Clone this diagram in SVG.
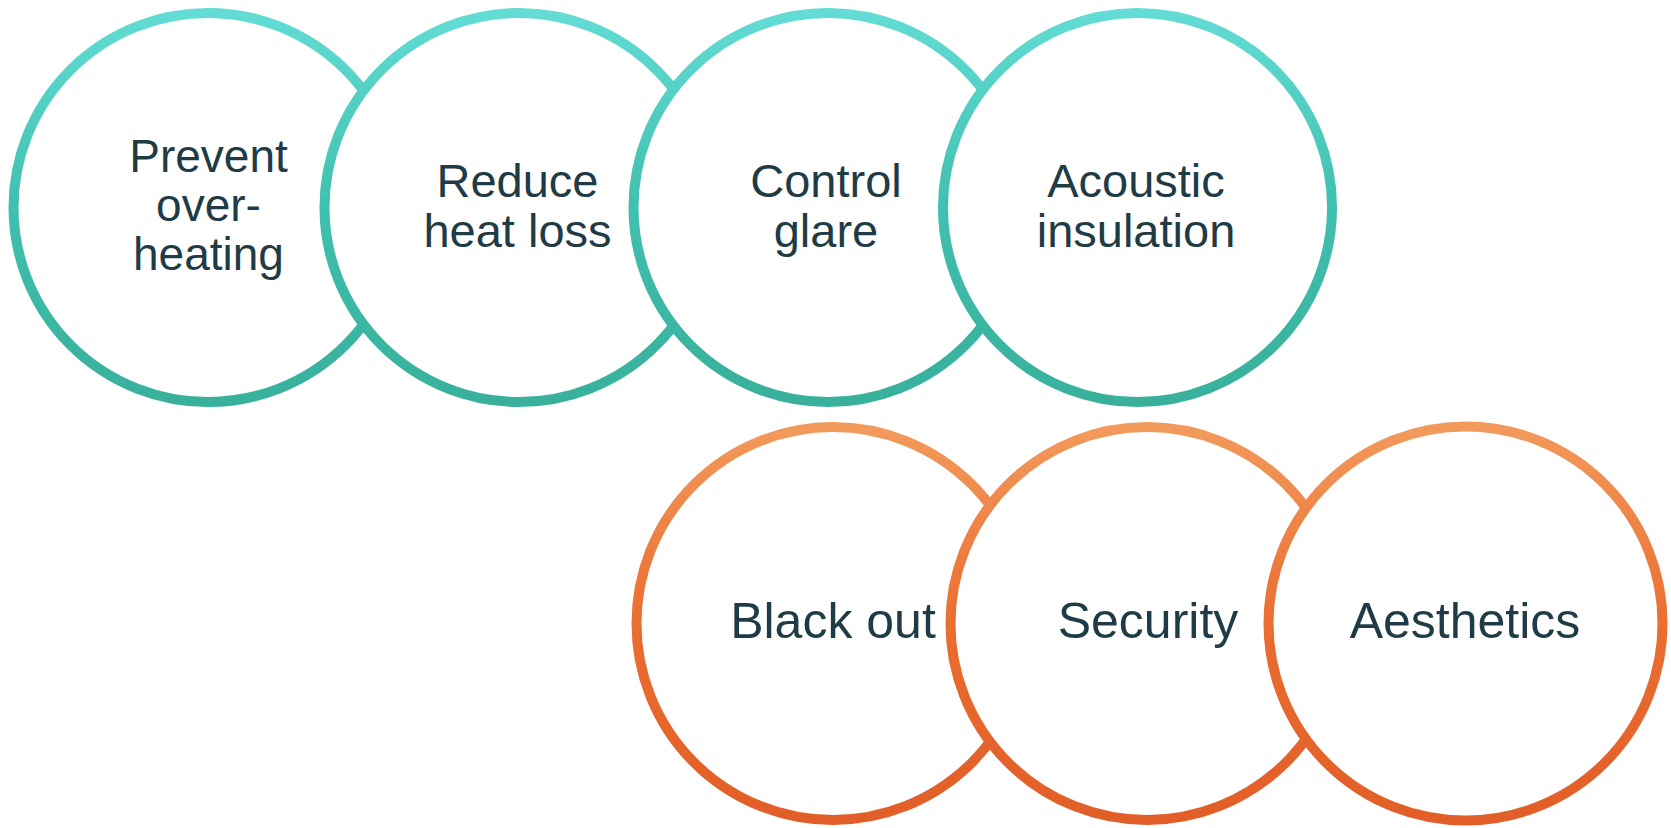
<svg xmlns="http://www.w3.org/2000/svg" width="1671" height="828" viewBox="0 0 1671 828">
  <defs>
    <linearGradient id="tealRing" x1="0" y1="0" x2="0" y2="1">
      <stop offset="0" stop-color="#62dcd4"/>
      <stop offset="0.5" stop-color="#40c0ae"/>
      <stop offset="1" stop-color="#38b09c"/>
    </linearGradient>
    <linearGradient id="orangeRing" x1="0" y1="0" x2="0" y2="1">
      <stop offset="0" stop-color="#f29a5c"/>
      <stop offset="0.5" stop-color="#ea6e30"/>
      <stop offset="1" stop-color="#e25e28"/>
    </linearGradient>
  </defs>
  <style>
    .teal { fill: #ffffff; stroke: url(#tealRing); stroke-width: 10; }
    .orange { fill: #ffffff; stroke: url(#orangeRing); stroke-width: 10; }
    .lbl { font-family: "Liberation Sans", Arial, sans-serif; fill: #1f3b45; text-anchor: middle; }
    .top { font-size: 47px; }
    .prev { font-size: 46px; }
    .bot { font-size: 50px; }
  </style>
  <rect x="0" y="0" width="1671" height="828" fill="#ffffff"/>

  <g id="connectors"></g>

  <g id="node-prevent">
    <circle class="teal" cx="208" cy="207.5" r="194.5"/>
    <text class="lbl prev" x="208.5" y="172">Prevent</text>
    <text class="lbl prev" x="208.5" y="221">over-</text>
    <text class="lbl prev" x="208.5" y="270">heating</text>
  </g>
  <g id="node-reduce">
    <circle class="teal" cx="519" cy="207.5" r="194.5"/>
    <text class="lbl top" x="517.5" y="197">Reduce</text>
    <text class="lbl top" x="517.5" y="247">heat loss</text>
  </g>
  <g id="node-glare">
    <circle class="teal" cx="828" cy="207.5" r="194.5"/>
    <text class="lbl top" x="826" y="197">Control</text>
    <text class="lbl top" x="826" y="247">glare</text>
  </g>
  <g id="node-acoustic">
    <circle class="teal" cx="1137.5" cy="207.5" r="194.5"/>
    <text class="lbl top" x="1136" y="197">Acoustic</text>
    <text class="lbl top" x="1136" y="247">insulation</text>
  </g>

  <g id="node-blackout">
    <circle class="orange" cx="833" cy="623.5" r="196.5"/>
    <text class="lbl bot" x="833" y="638">Black out</text>
  </g>
  <g id="node-security">
    <circle class="orange" cx="1147" cy="623.5" r="196.5"/>
    <text class="lbl bot" x="1148" y="638">Security</text>
  </g>
  <g id="node-aesthetics">
    <circle class="orange" cx="1465.5" cy="623.5" r="197"/>
    <text class="lbl bot" x="1465" y="638">Aesthetics</text>
  </g>
</svg>
